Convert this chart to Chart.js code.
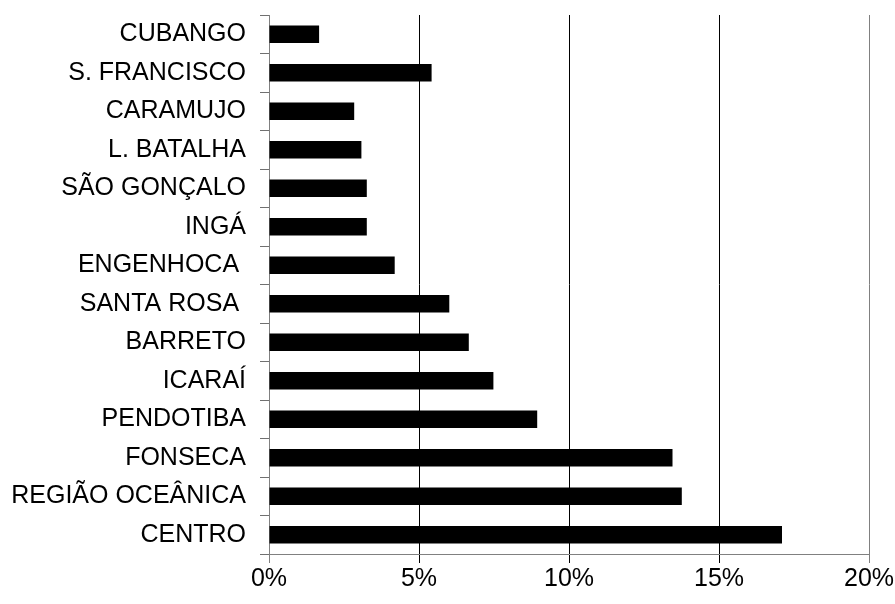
<!DOCTYPE html>
<html>
<head>
<meta charset="utf-8">
<title>Bairros</title>
<script src="https://cdn.jsdelivr.net/npm/chart.js@4/dist/chart.umd.min.js"></script>
<style>
  html, body { margin: 0; padding: 0; background: #fff; }
  #wrap { width: 895px; height: 604px; }
</style>
</head>
<body>
<div id="wrap"><canvas id="myChart" width="895" height="604"></canvas></div>
<script>
// bairros, de cima para baixo
const bairros = [
    'CUBANGO', 'S. FRANCISCO', 'CARAMUJO', 'L. BATALHA', 'SÃO GONÇALO', 'INGÁ',
    'ENGENHOCA ', 'SANTA ROSA ', 'BARRETO', 'ICARAÍ', 'PENDOTIBA', 'FONSECA',
    'REGIÃO OCEÂNICA', 'CENTRO'
];
// percentual de cada bairro
const percentuais = [
    1.67, 5.42, 2.84, 3.08, 3.26, 3.26,
    4.19, 6.01, 6.66, 7.48, 8.94, 13.45,
    13.76, 17.1
];
const ticksX = [0, 5, 10, 15, 20];

const FONTE = { family: '"Liberation Sans", Arial, sans-serif', size: 25 };
const CINZA = '#808080';

function corGrade(ctx){
    const v = ctx.tick ? ctx.tick.value : 0;
    return (v === ticksX[0] || v === ticksX[ticksX.length - 1]) ? CINZA : '#000';
}

const ctx = document.getElementById('myChart').getContext('2d');
new Chart(ctx, {
    type: 'bar',
    data: {
        labels: bairros,
        datasets: [{
            data: percentuais,
            backgroundColor: '#000',
            borderWidth: 0,
            barPercentage: 0.45,
            categoryPercentage: 1
        }]
    },
    options: {
        indexAxis: 'y',
        responsive: false,
        animation: false,
        layout: { padding: { top: 15, right: 26, left: 0, bottom: 0 } },
        plugins: {
            legend: { display: false },
            tooltip: { enabled: false }
        },
        scales: {
            x: {
                min: 0,
                max: 20,
                afterFit: s => {
                    s.height = 50;
                    s.paddingLeft = 0;
                    s.paddingRight = 0;
                },
                afterBuildTicks: s => { s.ticks = ticksX.map(v => ({ value: v })); },
                ticks: {
                    color: '#000',
                    font: FONTE,
                    padding: 1,
                    maxRotation: 0,
                    callback: v => v + '%'
                },
                grid: {
                    color: corGrade,
                    tickColor: corGrade,
                    tickLength: 9,
                    lineWidth: 1
                },
                border: { color: CINZA, width: 1 }
            },
            y: {
                afterFit: s => {
                    s.width = 269;
                    s.paddingTop = 0;
                    s.paddingBottom = 0;
                },
                ticks: {
                    color: '#000',
                    font: FONTE,
                    padding: 14,
                    autoSkip: false
                },
                grid: {
                    offset: true,
                    drawOnChartArea: false,
                    tickLength: 9,
                    tickColor: '#707070'
                },
                border: { color: CINZA, width: 1 }
            }
        }
    }
});
</script>
</body>
</html>
